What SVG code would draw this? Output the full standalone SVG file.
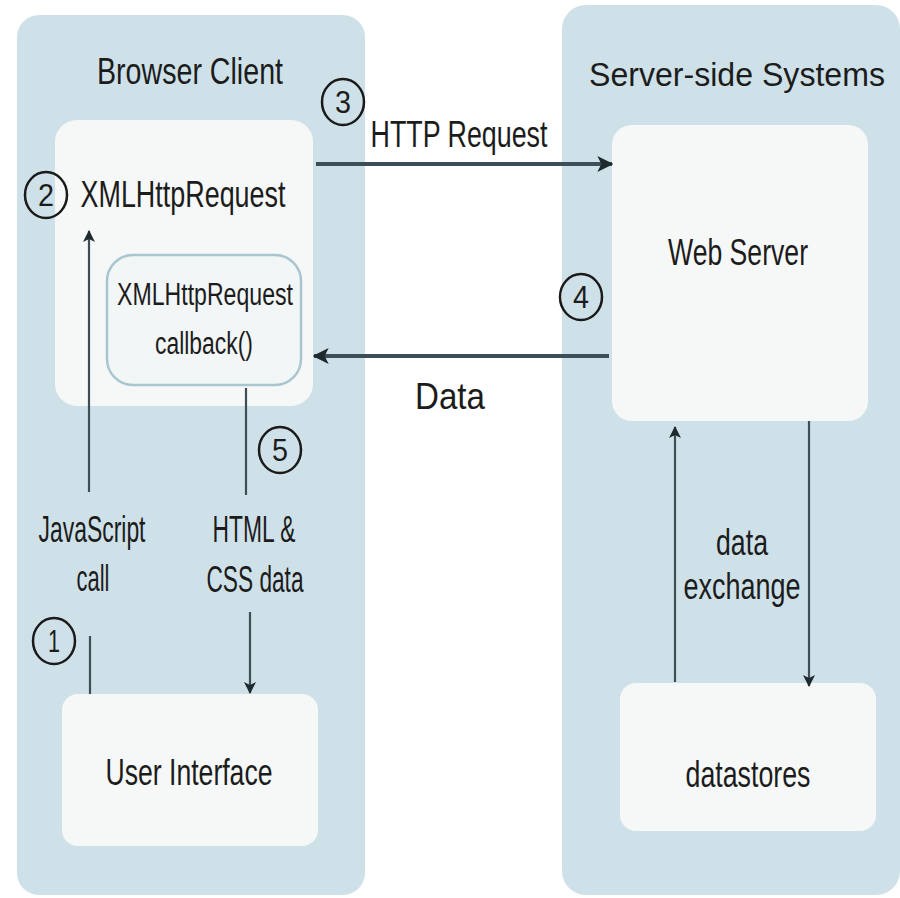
<svg xmlns="http://www.w3.org/2000/svg" width="900" height="898" viewBox="0 0 900 898">
<defs>
<marker id="ah" viewBox="0 0 12 12" refX="11" refY="6" markerWidth="12" markerHeight="14" markerUnits="userSpaceOnUse" orient="auto">
<path d="M0,0 L12,6 L0,12 L3,6 Z" fill="#1e2a2e"/>
</marker>
<marker id="ahb" viewBox="0 0 12 12" refX="11" refY="6" markerWidth="16" markerHeight="16" markerUnits="userSpaceOnUse" orient="auto">
<path d="M0,0 L12,6 L0,12 L3,6 Z" fill="#1e2a2e"/>
</marker>
</defs>
<style>
.panel{fill:#cfe1e8;}
.box{fill:#f6f8f8;}
.cb{fill:#f2f6f7;stroke:#a9c6cf;stroke-width:2.5;}
text{font-family:"Liberation Sans",Arial,sans-serif;fill:#1c1c1c;text-anchor:middle;}
.num{fill:none;stroke:#1a1a1a;stroke-width:2.5;}
.t{font-size:37px;}
.s{font-size:33px;}
.m{font-size:31px;}
.n{font-size:31px;}
.l{font-size:36px;}
.thick{stroke:#3d4f56;stroke-width:4;fill:none;}
.thin{stroke:#3d4f56;stroke-width:2.2;fill:none;}
</style>
<rect width="900" height="898" fill="#ffffff"/>
<g id="browser-client">
<rect class="panel" x="17" y="15" width="348" height="880" rx="22"/>
<text class="t" x="190" y="84" textLength="186" lengthAdjust="spacingAndGlyphs">Browser Client</text>
</g>
<g id="server-side">
<rect class="panel" x="562" y="5" width="338" height="890" rx="24"/>
<text class="s" x="737" y="86" textLength="296" lengthAdjust="spacingAndGlyphs">Server-side Systems</text>
</g>
<g id="xmlhttprequest">
<rect class="box" x="55" y="120" width="258" height="286" rx="22"/>
<text class="t" x="183" y="207" textLength="205" lengthAdjust="spacingAndGlyphs">XMLHttpRequest</text>
</g>
<g id="callback">
<rect class="cb" x="107" y="255" width="194" height="130" rx="26"/>
<text class="m" x="205" y="305" textLength="176" lengthAdjust="spacingAndGlyphs">XMLHttpRequest</text>
<text class="m" x="204" y="354" textLength="98" lengthAdjust="spacingAndGlyphs">callback()</text>
</g>
<g id="web-server">
<rect class="box" x="612" y="125" width="256" height="296" rx="20"/>
<text class="t" x="738" y="265" textLength="140" lengthAdjust="spacingAndGlyphs">Web Server</text>
</g>
<g id="datastores">
<rect class="box" x="620" y="683" width="256" height="148" rx="16"/>
<text class="t" x="748" y="787" textLength="125" lengthAdjust="spacingAndGlyphs">datastores</text>
</g>
<g id="user-interface">
<rect class="box" x="62" y="694" width="256" height="152" rx="16"/>
<text class="t" x="189" y="785" textLength="167" lengthAdjust="spacingAndGlyphs">User Interface</text>
</g>
<g id="connectors">
<line class="thick" x1="316" y1="164" x2="612" y2="164" marker-end="url(#ahb)"/>
<line class="thick" x1="609" y1="356" x2="314" y2="356" marker-end="url(#ahb)"/>
<line class="thin" x1="89" y1="492" x2="89" y2="231" marker-end="url(#ah)"/>
<line class="thin" x1="90" y1="636" x2="90" y2="694"/>
<line class="thin" x1="246" y1="388" x2="246" y2="495"/>
<line class="thin" x1="250" y1="612" x2="250" y2="693" marker-end="url(#ah)"/>
<line class="thin" x1="675" y1="682" x2="675" y2="427" marker-end="url(#ah)"/>
<line class="thin" x1="809" y1="421" x2="809" y2="686" marker-end="url(#ah)"/>
<text class="t" x="459" y="147" textLength="177" lengthAdjust="spacingAndGlyphs">HTTP Request</text>
<text class="t" x="450" y="409" textLength="70" lengthAdjust="spacingAndGlyphs">Data</text>
<text class="l" x="92" y="542" textLength="107" lengthAdjust="spacingAndGlyphs">JavaScript</text>
<text class="l" x="93" y="591" textLength="33" lengthAdjust="spacingAndGlyphs">call</text>
<text class="l" x="254" y="542" textLength="83" lengthAdjust="spacingAndGlyphs">HTML &amp;</text>
<text class="l" x="255" y="592" textLength="97" lengthAdjust="spacingAndGlyphs">CSS data</text>
<text class="t" x="742" y="555" textLength="52" lengthAdjust="spacingAndGlyphs">data</text>
<text class="t" x="742" y="599" textLength="117" lengthAdjust="spacingAndGlyphs">exchange</text>
</g>
<g id="step-markers">
<ellipse class="num" cx="343" cy="102" rx="21" ry="23"/>
<text class="n" x="343" y="113" textLength="16" lengthAdjust="spacingAndGlyphs">3</text>
<ellipse class="num" cx="46" cy="195" rx="21" ry="23"/>
<text class="n" x="46" y="206" textLength="16" lengthAdjust="spacingAndGlyphs">2</text>
<ellipse class="num" cx="581" cy="297" rx="21" ry="23"/>
<text class="n" x="581" y="308" textLength="16" lengthAdjust="spacingAndGlyphs">4</text>
<ellipse class="num" cx="280" cy="450" rx="21" ry="23"/>
<text class="n" x="280" y="461" textLength="16" lengthAdjust="spacingAndGlyphs">5</text>
<ellipse class="num" cx="54" cy="641" rx="21" ry="23"/>
<text class="n" x="54" y="652" textLength="12" lengthAdjust="spacingAndGlyphs">1</text>
</g>
</svg>
